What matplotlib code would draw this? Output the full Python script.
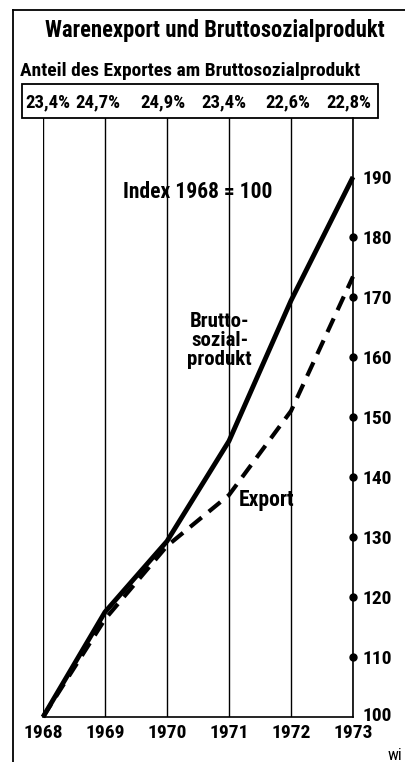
import matplotlib
matplotlib.use("Agg")
import matplotlib.pyplot as plt
from matplotlib.patches import Rectangle
from matplotlib.lines import Line2D
import matplotlib.transforms as mtransforms

plt.rcParams['font.family'] = ['Roboto Condensed', 'DejaVu Sans']
plt.rcParams['font.weight'] = 'bold'

years = [1968, 1969, 1970, 1971, 1972, 1973]
bsp = [100, 117.5, 129.3, 146, 169.4, 190]
export = [100, 116.3, 128.5, 137, 151, 173.4]
anteil = ['23,4%', '24,7%', '24,9%', '23,4%', '22,6%', '22,8%']
index_ticks = [100, 110, 120, 130, 140, 150, 160, 170, 180, 190]

W, H = 405, 762
fig = plt.figure(figsize=(W / 100, H / 100), dpi=100)

# axes: 1968..1973 -> px 43..353, value 100 at px 717, top at box bottom (118)
ax = fig.add_axes([43 / W, (H - 717) / H, 310 / W, (717 - 118) / H])
ax.set_xlim(1968, 1973)
ax.set_ylim(100, 100 + (717 - 118) / 6.0)

for y in years:
    ax.axvline(y, color='black', lw=1.0, zorder=1)

ax.plot(years, bsp, color='black', lw=3.5, solid_capstyle='butt', zorder=3, clip_on=False)
ax.plot(years, export, color='black', lw=3.0, dashes=(3.6, 2.2), zorder=3, clip_on=False)

# dots on the right axis
ax.plot([1973] * 8, index_ticks[1:9], 'o', color='black', ms=5, clip_on=False, zorder=4)

for side in ['top', 'left']:
    ax.spines[side].set_visible(False)
ax.spines['right'].set_linewidth(1.2)
ax.spines['bottom'].set_linewidth(1.2)

ax.set_xticks(years)
ax.set_xticklabels([str(y) for y in years], fontsize=14, fontweight='bold')
ax.tick_params(axis='x', length=0, pad=5)
ax.yaxis.tick_right()
ax.set_yticks(index_ticks)
ax.set_yticklabels([str(v) for v in index_ticks], fontsize=14, fontweight='bold')
ax.tick_params(axis='y', length=0, pad=6.5)

# lift the "100" label a little so it clears the 1973 year label
lab100 = ax.get_yticklabels()[0]
lab100.set_transform(lab100.get_transform() +
                     mtransforms.ScaledTranslation(0, 3 / 100, fig.dpi_scale_trans))

ax.text(1970.5, 187.5, 'Index 1968 = 100', fontsize=15.5, fontweight='bold', ha='center', va='center')
ax.text(1970.85, 162.7, 'Brutto-\nsozial-\nprodukt', fontsize=15, fontweight='bold',
        ha='center', va='center', linespacing=1.0)
ax.text(1971.15, 136.2, 'Export', fontsize=15.5, fontweight='bold', ha='left', va='center')

# frame lines of the page
fig.add_artist(Line2D([13 / W, 13 / W], [0, (H - 10) / H], color='black', lw=1.3))
fig.add_artist(Line2D([13 / W, 1], [(H - 10) / H, (H - 10) / H], color='black', lw=1.3))

fig.text(215 / W, (H - 30) / H, 'Warenexport und Bruttosozialprodukt', fontsize=16.3,
         fontweight='bold', ha='center', va='center')
fig.text(20 / W, (H - 71) / H, 'Anteil des Exportes am Bruttosozialprodukt', fontsize=14,
         fontweight='bold', ha='left', va='center')

fig.add_artist(Rectangle((22 / W, (H - 118) / H), (378 - 22) / W, (118 - 84) / H,
                         fill=False, edgecolor='black', lw=1.3, transform=fig.transFigure))

trans = mtransforms.blended_transform_factory(ax.transData, fig.transFigure)
shift = [0.08, -0.11, -0.06, -0.08, -0.05, -0.06]
for yr, s, lab in zip(years, shift, anteil):
    ax.text(yr + s, (H - 102) / H, lab, transform=trans, fontsize=13.5, fontweight='bold',
            ha='center', va='center', clip_on=False)

fig.text(388 / W, (H - 755) / H, 'wi', fontsize=12, fontweight='normal', ha='left', va='center')

fig.savefig('out.png', dpi=100)
